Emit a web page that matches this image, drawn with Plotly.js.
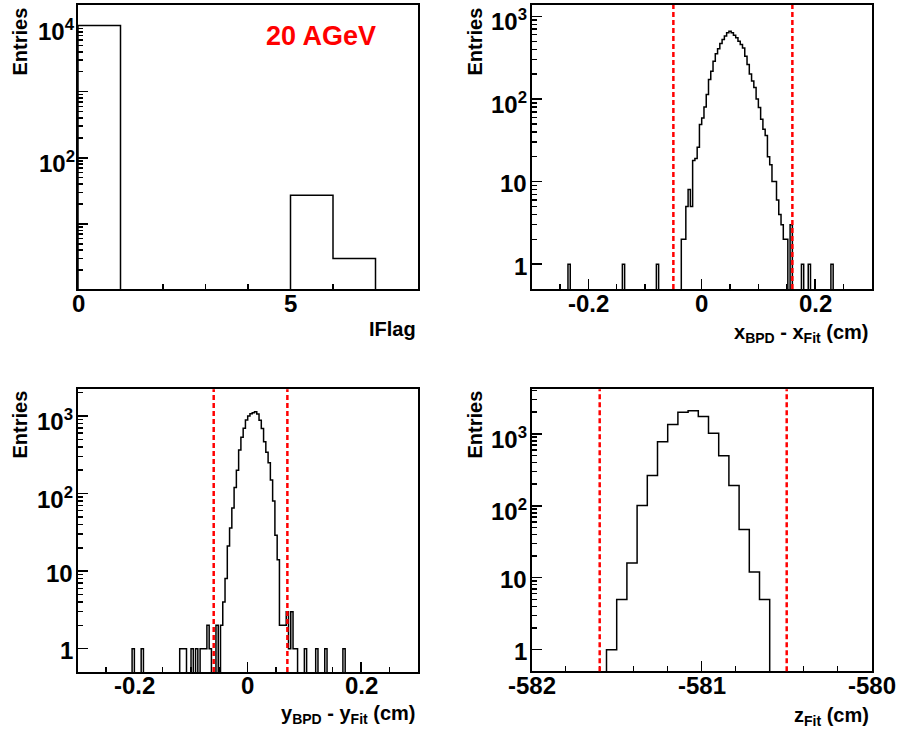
<!DOCTYPE html>
<html><head><meta charset="utf-8">
<script src="https://cdn.plot.ly/plotly-3.0.1.min.js"></script>
<style>html,body{margin:0;padding:0;background:#fff}#plot{width:897px;height:729px}</style>
</head><body><div id="plot"></div>
<script>
// ---------------- data ----------------
// IFlag histogram: bins of width 1 starting at 0
const iflagLow = 0, iflagBinWidth = 1;
const iflagCounts = [9970, 0, 0, 0, 0, 27, 3, 0];

// x_BPD - x_Fit: 150 bins of 0.004 from -0.3
const dxLow = -0.3, dxBinWidth = 0.004;
const dxCounts = [
  0,0,0,0,0,0,0,0,0,0,
  0,0,0,0,0,0,1,0,0,0,
  0,0,0,0,0,0,0,0,0,0,
  0,0,0,0,0,0,0,0,0,0,
  1,0,0,0,0,0,0,0,0,0,
  0,0,0,0,0,1,0,0,0,0,
  0,0,0,0,0,0,2,2,5,8,
  5,18,19,26,49,59,80,113,172,217,
  287,352,405,470,526,577,632,663,632,590,
  550,500,456,415,330,262,200,165,138,100,
  79,57,43,36,20,16,10,10,6,4,
  3,2,2,0,3,0,0,0,0,1,
  0,0,1,0,0,0,0,0,0,0,
  0,0,1,0,0,0,0,0,0,0,
  0,0,0,0,0,0,0,0,0,0
];
const dxCuts = [-0.05, 0.16];

// y_BPD - y_Fit: 150 bins of 0.004 from -0.3
const dyLow = -0.3, dyBinWidth = 0.004;
const dyCounts = [
  0,0,0,0,0,0,0,0,0,0,
  0,0,0,0,0,0,0,0,0,0,
  0,0,0,0,1,0,0,0,1,0,
  0,0,0,0,0,0,0,0,0,0,
  0,0,0,0,0,1,1,1,0,0,
  1,0,1,0,1,1,1,2,1,0,
  0,2,0,2,4,8,21,36,65,120,
  200,364,530,694,888,1000,1070,1100,1130,1060,
  880,690,466,340,250,150,80,29,14,2,
  2,2,3,1,3,1,1,0,0,0,
  1,0,0,0,0,1,0,0,0,1,
  0,0,0,0,0,0,0,1,0,0,
  0,0,0,0,0,0,0,0,0,0,
  0,0,0,0,0,0,0,0,0,0,
  0,0,0,0,0,0,0,0,0,0
];
const dyCuts = [-0.06, 0.07];

// z_Fit: 16 bins of 0.06 from -581.56
const zLow = -581.56, zBinWidth = 0.06;
const zCounts = [1, 5, 16, 101, 263, 780, 1350, 2000, 2090, 1740, 1020, 495, 192, 47, 12, 5];
const zCuts = [-581.6, -580.5];

// tick labels
const iflagTickVals = [0, 5], iflagTickText = ['0', '5'];
const diffTickVals = [-0.2, 0, 0.2], diffTickText = ['-0.2', '0', '0.2'];
const zTickVals = [-582, -581, -580], zTickText = ['-582', '-581', '-580'];
const logTickVals4 = [100, 10000], logTickText4 = ['10<sup>2</sup>', '10<sup>4</sup>'];
const logTickVals3 = [1, 10, 100, 1000], logTickText3 = ['1', '10', '10<sup>2</sup>', '10<sup>3</sup>'];
const entriesTitle = 'Entries';
const titles = ['IFlag', 'x<sub>BPD</sub> - x<sub>Fit</sub> (cm)', 'y<sub>BPD</sub> - y<sub>Fit</sub> (cm)', 'z<sub>Fit</sub> (cm)'];
const energyLabel = '20 AGeV';

// ---------------- drawing ----------------
const W = 897, H = 729;
const FONT = 'Liberation Sans, Arial, Helvetica, sans-serif';
const FLOOR = 0.01;

function steps(low, width, counts) {
  const x = [low], y = [FLOOR];
  counts.forEach((c, i) => { x.push(low + i * width); y.push(c > 0 ? c : FLOOR); });
  x.push(low + counts.length * width); y.push(FLOOR);
  return {x, y};
}
function histTrace(low, width, counts, xa, ya) {
  const s = steps(low, width, counts);
  return {type: 'scatter', mode: 'lines', x: s.x, y: s.y, xaxis: xa, yaxis: ya,
    line: {color: '#000', width: 1.5, shape: 'hv'}, hoverinfo: 'skip', showlegend: false};
}
function decadeMinors(lo, hi) {
  const v = [];
  for (let d = lo; d <= hi; d++) for (let m = 2; m <= 9; m++) v.push(m * Math.pow(10, d));
  return v;
}
const boxes = {
  p1: {l: 78, r: 418, t: 5, b: 289},
  p2: {l: 531.7, r: 871.7, t: 5, b: 289},
  p3: {l: 77.7, r: 417.7, t: 389.3, b: 672},
  p4: {l: 531.7, r: 871.7, t: 389.3, b: 671.3}
};
const dom = b => ({x: [b.l / W, b.r / W], y: [1 - b.b / H, 1 - b.t / H]});
function xAxis(b, range, tv, minors, anchor) {
  return {domain: dom(b).x, range, anchor, showgrid: false, zeroline: false,
    showline: true, mirror: true, linecolor: '#000', linewidth: 2,
    ticks: 'inside', ticklen: 10, tickwidth: 1.5, tickcolor: '#000',
    tickmode: 'array', tickvals: tv, showticklabels: false,
    minor: {tickmode: 'array', tickvals: minors, ticks: 'inside', ticklen: 5, tickwidth: 1.5, tickcolor: '#000', showgrid: false},
    fixedrange: true};
}
function yAxis(b, range, tv, minors, anchor) {
  return {domain: dom(b).y, type: 'log', range, anchor, showgrid: false, zeroline: false,
    showline: true, mirror: true, linecolor: '#000', linewidth: 2,
    ticks: 'inside', ticklen: 10, tickwidth: 1.5, tickcolor: '#000',
    tickmode: 'array', tickvals: tv, showticklabels: false,
    minor: {tickmode: 'array', tickvals: minors, ticks: 'inside', ticklen: 5, tickwidth: 1.5, tickcolor: '#000', showgrid: false},
    fixedrange: true};
}
const diffMinors = [-0.25, -0.15, -0.1, -0.05, 0.05, 0.1, 0.15, 0.25];
const zMinors = [-581.8, -581.6, -581.4, -581.2, -580.8, -580.6, -580.4, -580.2];

const data = [
  histTrace(iflagLow, iflagBinWidth, iflagCounts, 'x', 'y'),
  histTrace(dxLow, dxBinWidth, dxCounts, 'x2', 'y2'),
  histTrace(dyLow, dyBinWidth, dyCounts, 'x3', 'y3'),
  histTrace(zLow, zBinWidth, zCounts, 'x4', 'y4')
];

const cutShapes = [];
[[dxCuts, 'x2', 'y2'], [dyCuts, 'x3', 'y3'], [zCuts, 'x4', 'y4']].forEach(([cuts, xa, ya]) => {
  cuts.forEach(c => cutShapes.push({type: 'line', xref: xa, yref: ya + ' domain', x0: c, x1: c, y0: 0, y1: 1,
    line: {color: '#ff0000', width: 2.5, dash: '5px,3px'}}));
});

const titleFont = {family: FONT, size: 20, color: '#000', weight: 700};
const tickFont = {family: FONT, size: 24, color: '#000', weight: 700};
const ann = [];
function px(x, y) { return {x: x / W, y: 1 - y / H}; }

// tick labels as text annotations bound to the axes
function xTickLabels(xa, vals, texts, yPix) {
  vals.forEach((v, i) => ann.push({xref: xa, yref: 'paper', x: v, y: 1 - yPix / H,
    xanchor: 'center', yanchor: 'middle', text: '<b>' + texts[i] + '</b>', showarrow: false, font: tickFont}));
}
function yTickLabels(ya, vals, texts, xPix) {
  vals.forEach((v, i) => ann.push({xref: 'paper', yref: ya, x: xPix / W, y: Math.log10(v),
    xanchor: 'right', yanchor: 'middle', yshift: texts[i].includes('sup') ? -4 : -2,
    text: '<b>' + texts[i] + '</b>', showarrow: false, font: tickFont}));
}
xTickLabels('x', iflagTickVals, iflagTickText, 303);
xTickLabels('x2', diffTickVals, diffTickText, 303);
xTickLabels('x3', diffTickVals, diffTickText, 685);
xTickLabels('x4', zTickVals, zTickText, 685);
yTickLabels('y', logTickVals4, logTickText4, 77);
yTickLabels('y2', logTickVals3, logTickText3, 529);
yTickLabels('y3', logTickVals3, logTickText3, 75);
yTickLabels('y4', logTickVals3, logTickText3, 529);

[[19.5, 6], [474.5, 6], [19.5, 389], [474.5, 389]].forEach(([x, y]) => {
  const p = px(x, y);
  ann.push({xref: 'paper', yref: 'paper', x: p.x, y: p.y, xanchor: 'center', yanchor: 'top',
    text: '<b>' + entriesTitle + '</b>', textangle: -90, showarrow: false, font: titleFont});
});
[[417.5, 329], [871, 333], [417.5, 714], [871, 716]].forEach(([x, y], i) => {
  const p = px(x, y);
  ann.push({xref: 'paper', yref: 'paper', x: p.x, y: p.y, xanchor: 'right', yanchor: 'middle',
    text: '<b>' + titles[i] + '</b>', showarrow: false, font: titleFont});
});
{
  const p = px(321, 36);
  ann.push({xref: 'paper', yref: 'paper', x: p.x, y: p.y, xanchor: 'center', yanchor: 'middle',
    text: '<b>' + energyLabel + '</b>', showarrow: false, font: {family: FONT, size: 27, color: '#ff0000', weight: 700}});
}

const layout = {
  width: W, height: H, margin: {l: 0, r: 0, t: 0, b: 0},
  paper_bgcolor: '#fff', plot_bgcolor: '#fff', showlegend: false, hovermode: false,
  xaxis: xAxis(boxes.p1, [0, 8], [0, 5], [1, 2, 3, 4, 6, 7], 'y'),
  yaxis: yAxis(boxes.p1, [0.015, 4.31], [1, 10, 100, 1000, 10000], decadeMinors(0, 3), 'x'),
  xaxis2: xAxis(boxes.p2, [-0.3, 0.3], diffTickVals, diffMinors, 'y2'),
  yaxis2: yAxis(boxes.p2, [-0.301, 3.138], [1, 10, 100, 1000], decadeMinors(0, 2), 'x2'),
  xaxis3: xAxis(boxes.p3, [-0.3, 0.3], diffTickVals, diffMinors, 'y3'),
  yaxis3: yAxis(boxes.p3, [-0.301, 3.344], [1, 10, 100, 1000], decadeMinors(0, 3), 'x3'),
  xaxis4: xAxis(boxes.p4, [-582, -580], zTickVals, zMinors, 'y4'),
  yaxis4: yAxis(boxes.p4, [-0.301, 3.62], [1, 10, 100, 1000], decadeMinors(0, 3), 'x4'),
  shapes: cutShapes,
  annotations: ann
};

Plotly.newPlot('plot', data, layout, {staticPlot: true, displayModeBar: false});
</script>
</body></html>
